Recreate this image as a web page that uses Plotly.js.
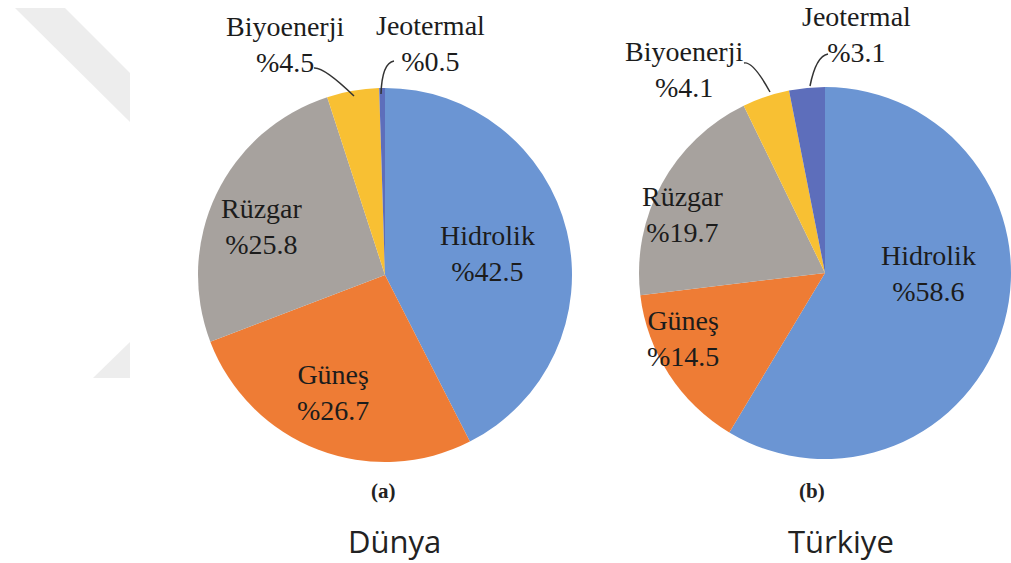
<!DOCTYPE html>
<html>
<head>
<meta charset="utf-8">
<script src="https://cdn.plot.ly/plotly-3.0.1.min.js"></script>
<style>html,body{margin:0;padding:0;background:#fff;}#chart{width:1011px;height:563px;}</style>
</head>
<body>
<div id="chart"></div>
<script>
const labels = ['Hidrolik', 'Güneş', 'Rüzgar', 'Biyoenerji', 'Jeotermal'];
const dunyaValues = [42.5, 26.7, 25.8, 4.5, 0.5];
const turkiyeValues = [58.6, 14.5, 19.7, 4.1, 3.1];
const panelTags = ['(a)', '(b)'];
const panelNames = ['Dünya', 'Türkiye'];
const sliceColors = ['#6B95D3', '#EE7C35', '#A7A29E', '#F8C033', '#5D6EBB'];

const W = 1011, H = 563;
const px = (x) => x / W;
const py = (y) => 1 - y / H;

const serif = '"Liberation Serif", "DejaVu Serif", serif';
const txtColor = '#1c1c1c';

function pieTrace(values, dom) {
  return {
    type: 'pie', labels: labels, values: values, sort: false,
    direction: 'clockwise', rotation: 0, textinfo: 'none', hoverinfo: 'label+percent',
    marker: {colors: sliceColors, line: {width: 0}},
    domain: dom, showlegend: false
  };
}

const data = [
  pieTrace(dunyaValues, {x: [px(198), px(572)], y: [py(462), py(88)]}),
  pieTrace(turkiyeValues, {x: [px(639), px(1011)], y: [py(459), py(87)]})
];

// label pixel positions (centre of two-line block) for each slice
const dunyaLabelPos = [[487, 253], [333, 392], [262, 227], [285, 45], [430, 43]];
const turkiyeLabelPos = [[928, 273], [683, 338], [683, 215], [684, 70], [856, 35]];

const annotations = [];
function addLabels(values, pos) {
  values.forEach((v, i) => {
    annotations.push({
      xref: 'paper', yref: 'paper', x: px(pos[i][0]), y: py(pos[i][1]),
      xanchor: 'center', yanchor: 'middle', showarrow: false,
      text: labels[i] + '<br>%' + v.toFixed(1),
      font: {family: serif, size: 28, color: txtColor}
    });
  });
}
addLabels(dunyaValues, dunyaLabelPos);
addLabels(turkiyeValues, turkiyeLabelPos);

const tagPos = [[383, 491], [812, 491]];
const namePos = [[394, 541], [841, 541]];
panelTags.forEach((t, i) => {
  annotations.push({xref: 'paper', yref: 'paper', x: px(tagPos[i][0]), y: py(tagPos[i][1]),
    xanchor: 'center', yanchor: 'middle', showarrow: false,
    text: '<b>' + t + '</b>', font: {family: serif, size: 21, color: '#222'}});
  annotations.push({xref: 'paper', yref: 'paper', x: px(namePos[i][0]), y: py(namePos[i][1]),
    xanchor: 'center', yanchor: 'middle', showarrow: false,
    text: panelNames[i], font: {family: '"Open Sans", sans-serif', size: 31, color: '#222'}});
});

function pathPx(pts, close) {
  let s = pts.map((p, i) => (i === 0 ? 'M ' : 'L ') + px(p[0]) + ',' + py(p[1])).join(' ');
  return close ? s + ' Z' : s;
}
function curvePx(a, c, b) {
  return 'M ' + px(a[0]) + ',' + py(a[1]) + ' Q ' + px(c[0]) + ',' + py(c[1]) + ' ' + px(b[0]) + ',' + py(b[1]);
}

const shapes = [
  // faint watermark
  {type: 'path', xref: 'paper', yref: 'paper', layer: 'below', line: {width: 0}, fillcolor: '#EDEDED',
    path: pathPx([[15, 8], [65, 8], [130, 73], [130, 122]], true)},
  {type: 'path', xref: 'paper', yref: 'paper', layer: 'below', line: {width: 0}, fillcolor: '#EDEDED',
    path: pathPx([[93, 378], [130, 342], [130, 378]], true)},
  // leader lines
  {type: 'path', xref: 'paper', yref: 'paper', line: {color: '#333', width: 1.5},
    path: curvePx([314, 68], [324, 67], [354, 96])},
  {type: 'path', xref: 'paper', yref: 'paper', line: {color: '#333', width: 1.5},
    path: curvePx([394, 61], [382, 63], [381, 94])},
  {type: 'path', xref: 'paper', yref: 'paper', line: {color: '#333', width: 1.5},
    path: curvePx([744, 63], [753, 61], [770, 92])},
  {type: 'path', xref: 'paper', yref: 'paper', line: {color: '#333', width: 1.5},
    path: curvePx([828, 54], [816, 56], [810, 86])}
];

const layout = {
  width: W, height: H,
  margin: {l: 0, r: 0, t: 0, b: 0},
  paper_bgcolor: '#ffffff', plot_bgcolor: '#ffffff',
  annotations: annotations, shapes: shapes, showlegend: false
};

Plotly.newPlot('chart', data, layout, {displayModeBar: false, staticPlot: true});
</script>
</body>
</html>
